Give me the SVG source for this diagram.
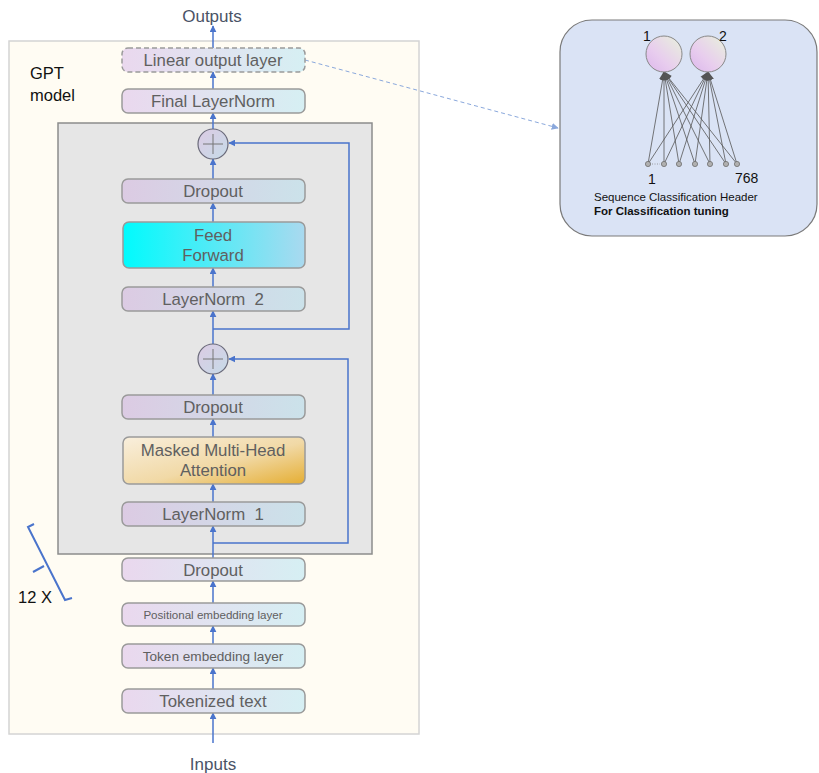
<svg xmlns="http://www.w3.org/2000/svg" width="819" height="773" viewBox="0 0 819 773">
<defs>
<linearGradient id="gNode" x1="0" y1="0" x2="1" y2="0">
<stop offset="0" stop-color="#ead8ee"/><stop offset="1" stop-color="#d6eff3"/>
</linearGradient>
<linearGradient id="gNodeIn" x1="0" y1="0" x2="1" y2="0">
<stop offset="0" stop-color="#dccbe3"/><stop offset="1" stop-color="#cbe2ea"/>
</linearGradient>
<linearGradient id="gFF" x1="0" y1="0" x2="1" y2="0">
<stop offset="0" stop-color="#00fbfd"/><stop offset="1" stop-color="#aad9ef"/>
</linearGradient>
<linearGradient id="gMHA" x1="0" y1="0" x2="1" y2="1">
<stop offset="0" stop-color="#f9efdd"/><stop offset="0.55" stop-color="#f1d9a6"/><stop offset="1" stop-color="#e5ae33"/>
</linearGradient>
<linearGradient id="gPlus" x1="0" y1="0" x2="1" y2="1">
<stop offset="0" stop-color="#dccbe3"/><stop offset="1" stop-color="#c6dbe8"/>
</linearGradient>
<linearGradient id="gNeuron" x1="1" y1="0" x2="0" y2="1">
<stop offset="0" stop-color="#e8f2dc"/><stop offset="0.6" stop-color="#e8cdee"/><stop offset="1" stop-color="#dcb6ec"/>
</linearGradient>
<marker id="arr" viewBox="0 0 10 10" refX="9" refY="5" markerWidth="7" markerHeight="7" orient="auto-start-reverse" markerUnits="userSpaceOnUse">
<path d="M0,0 L10,5 L0,10 z" fill="#4a74cc"/>
</marker>
<marker id="arrD" viewBox="0 0 10 10" refX="9" refY="5" markerWidth="7" markerHeight="7" orient="auto" markerUnits="userSpaceOnUse">
<path d="M0,0 L10,5 L0,10 z" fill="#8aa8dc"/>
</marker>
<marker id="arrG" viewBox="0 0 10 10" refX="9" refY="5" markerWidth="9" markerHeight="9" orient="auto" markerUnits="userSpaceOnUse">
<path d="M0,1 L10,5 L0,9 z" fill="#555"/>
</marker>
</defs>
<style>
.node{stroke:#9a9a9a;stroke-width:1.5;}
.t{font-family:"Liberation Sans",Arial,sans-serif;fill:#606060;text-anchor:middle;white-space:pre;}
.lbl{font-family:"Liberation Sans",Arial,sans-serif;fill:#4a5366;text-anchor:middle;font-size:17px;}
.blk{font-family:"Liberation Sans",Arial,sans-serif;fill:#111;}
.c{fill:none;stroke:#4a74cc;stroke-width:1.5;}
.w{stroke:#555;stroke-width:0.8;fill:none;}
</style>
<rect width="819" height="773" fill="#ffffff"/>

<g id="gpt-frame">
<rect x="9" y="41" width="410" height="693" fill="#fffcf3" stroke="#d4d4d4" stroke-width="1.5"/>
<text class="blk" x="30" y="79" font-size="16.5">GPT</text>
<text class="blk" x="30" y="101" font-size="16.5">model</text>
</g>

<g id="transformer-block">
<rect x="58" y="123" width="314" height="431" fill="#e6e6e6" stroke="#8c8c8c" stroke-width="1.5"/>
</g>

<g id="repeat-bracket">
<path d="M34,524 L28,527 L65,600 L72,598" fill="none" stroke="#4a74cc" stroke-width="2"/>
<path d="M44,566 L33,572" fill="none" stroke="#4a74cc" stroke-width="2"/>
<text class="blk" x="18" y="603" font-size="16.5">12 X</text>
</g>

<g id="connectors">
<line class="c" x1="213" y1="48" x2="213" y2="26" marker-end="url(#arr)"/>
<line class="c" x1="213" y1="89" x2="213" y2="72" marker-end="url(#arr)"/>
<line class="c" x1="213" y1="129" x2="213" y2="113" marker-end="url(#arr)"/>
<line class="c" x1="213" y1="179" x2="213" y2="159" marker-end="url(#arr)"/>
<line class="c" x1="213" y1="222" x2="213" y2="203" marker-end="url(#arr)"/>
<line class="c" x1="213" y1="287" x2="213" y2="268" marker-end="url(#arr)"/>
<line class="c" x1="213" y1="344" x2="213" y2="311" marker-end="url(#arr)"/>
<polyline class="c" points="213,329 349,329 349,143 229,143" marker-end="url(#arr)"/>
<line class="c" x1="213" y1="395" x2="213" y2="374" marker-end="url(#arr)"/>
<line class="c" x1="213" y1="437" x2="213" y2="419" marker-end="url(#arr)"/>
<line class="c" x1="213" y1="502" x2="213" y2="484" marker-end="url(#arr)"/>
<line class="c" x1="213" y1="558" x2="213" y2="526" marker-end="url(#arr)"/>
<polyline class="c" points="213,543 348,543 348,359 229,359" marker-end="url(#arr)"/>
<line class="c" x1="213" y1="603" x2="213" y2="581" marker-end="url(#arr)"/>
<line class="c" x1="213" y1="644" x2="213" y2="626" marker-end="url(#arr)"/>
<line class="c" x1="213" y1="689" x2="213" y2="668" marker-end="url(#arr)"/>
<line class="c" x1="213" y1="743" x2="213" y2="713" marker-end="url(#arr)"/>
<line x1="305" y1="60" x2="558" y2="128" stroke="#8aa8dc" stroke-width="1" stroke-dasharray="4,3" marker-end="url(#arrD)"/>
</g>

<g id="outputs"><text class="lbl" x="212" y="22">Outputs</text></g>
<g id="inputs"><text class="lbl" x="213" y="770">Inputs</text></g>

<g id="linear-output-layer">
<rect class="node" x="122" y="48" width="183" height="24" rx="6" fill="url(#gNode)" stroke-dasharray="5,3"/>
<text class="t" x="213" y="66" font-size="16.8">Linear output layer</text>
</g>
<g id="final-layernorm">
<rect class="node" x="122" y="89" width="183" height="24" rx="6" fill="url(#gNode)"/>
<text class="t" x="213" y="107" font-size="16.8">Final LayerNorm</text>
</g>
<g id="add-2">
<circle cx="213" cy="144" r="15" fill="url(#gPlus)" stroke="#6a6a7a" stroke-width="1.2"/>
<path d="M203,144 H223 M213,134 V154" stroke="#777" stroke-width="1"/>
</g>
<g id="dropout-2">
<rect class="node" x="122" y="179" width="183" height="24" rx="6" fill="url(#gNodeIn)"/>
<text class="t" x="213" y="197" font-size="16.8">Dropout</text>
</g>
<g id="feed-forward">
<rect class="node" x="123" y="222" width="182" height="46" rx="6" fill="url(#gFF)"/>
<text class="t" x="213" y="241" font-size="16.8">Feed</text>
<text class="t" x="213" y="261" font-size="16.8">Forward</text>
</g>
<g id="layernorm-2">
<rect class="node" x="122" y="287" width="183" height="24" rx="6" fill="url(#gNodeIn)"/>
<text class="t" x="213" y="305" font-size="16.8">LayerNorm  2</text>
</g>
<g id="add-1">
<circle cx="213" cy="359" r="15" fill="url(#gPlus)" stroke="#6a6a7a" stroke-width="1.2"/>
<path d="M203,359 H223 M213,349 V369" stroke="#777" stroke-width="1"/>
</g>
<g id="dropout-1">
<rect class="node" x="122" y="395" width="183" height="24" rx="6" fill="url(#gNodeIn)"/>
<text class="t" x="213" y="413" font-size="16.8">Dropout</text>
</g>
<g id="masked-mha">
<rect class="node" x="123" y="437" width="182" height="47" rx="6" fill="url(#gMHA)"/>
<text class="t" x="213" y="456" font-size="16.8">Masked Multi-Head</text>
<text class="t" x="213" y="476" font-size="16.8">Attention</text>
</g>
<g id="layernorm-1">
<rect class="node" x="122" y="502" width="183" height="24" rx="6" fill="url(#gNodeIn)"/>
<text class="t" x="213" y="520" font-size="16.8">LayerNorm  1</text>
</g>
<g id="dropout-emb">
<rect class="node" x="122" y="558" width="183" height="23" rx="6" fill="url(#gNode)"/>
<text class="t" x="213" y="576" font-size="16.8">Dropout</text>
</g>
<g id="positional-embedding">
<rect class="node" x="122" y="603" width="183" height="23" rx="6" fill="url(#gNode)"/>
<text class="t" x="213" y="619" font-size="11.6">Positional embedding layer</text>
</g>
<g id="token-embedding">
<rect class="node" x="122" y="644" width="183" height="24" rx="6" fill="url(#gNode)"/>
<text class="t" x="213" y="661" font-size="13.6">Token embedding layer</text>
</g>
<g id="tokenized-text">
<rect class="node" x="122" y="689" width="183" height="24" rx="6" fill="url(#gNode)"/>
<text class="t" x="213" y="707" font-size="16.8">Tokenized text</text>
</g>

<g id="classification-head">
<rect x="560" y="20" width="257" height="216" rx="32" fill="#dae3f5" stroke="#7a7a7a" stroke-width="1.2"/>
<g class="w">
<line x1="648" y1="164" x2="664" y2="72" marker-end="url(#arrG)"/>
<line x1="664" y1="164" x2="664" y2="72" marker-end="url(#arrG)"/>
<line x1="679" y1="164" x2="664" y2="72" marker-end="url(#arrG)"/>
<line x1="695" y1="164" x2="664" y2="72" marker-end="url(#arrG)"/>
<line x1="710" y1="164" x2="664" y2="72" marker-end="url(#arrG)"/>
<line x1="726" y1="164" x2="664" y2="72" marker-end="url(#arrG)"/>
<line x1="737" y1="164" x2="664" y2="72" marker-end="url(#arrG)"/>
<line x1="648" y1="164" x2="708" y2="72" marker-end="url(#arrG)"/>
<line x1="664" y1="164" x2="708" y2="72" marker-end="url(#arrG)"/>
<line x1="679" y1="164" x2="708" y2="72" marker-end="url(#arrG)"/>
<line x1="695" y1="164" x2="708" y2="72" marker-end="url(#arrG)"/>
<line x1="710" y1="164" x2="708" y2="72" marker-end="url(#arrG)"/>
<line x1="726" y1="164" x2="708" y2="72" marker-end="url(#arrG)"/>
<line x1="737" y1="164" x2="708" y2="72" marker-end="url(#arrG)"/>
</g>
<circle cx="664" cy="54" r="18" fill="url(#gNeuron)" stroke="#888" stroke-width="1"/>
<circle cx="708" cy="54" r="18" fill="url(#gNeuron)" stroke="#888" stroke-width="1"/>
<g fill="#b0b0b0" stroke="#6e6e6e" stroke-width="0.8">
<circle cx="648" cy="164" r="2.6"/><circle cx="664" cy="164" r="2.6"/><circle cx="679" cy="164" r="2.6"/>
<circle cx="695" cy="164" r="2.6"/><circle cx="710" cy="164" r="2.6"/><circle cx="726" cy="164" r="2.6"/>
<circle cx="737" cy="164" r="2.6"/>
</g>
<line x1="652" y1="164" x2="660" y2="164" stroke="#888" stroke-width="0.8" stroke-dasharray="1,1.5"/>
<text class="blk" x="643" y="41" font-size="14">1</text>
<text class="blk" x="719" y="41" font-size="14">2</text>
<text class="blk" x="648" y="184" font-size="14">1</text>
<text class="blk" x="735" y="183" font-size="14">768</text>
<text class="blk" x="594" y="201" font-size="11.5">Sequence Classification Header</text>
<text class="blk" x="594" y="215" font-size="11.5" font-weight="bold">For Classification tuning</text>
</g>
</svg>
